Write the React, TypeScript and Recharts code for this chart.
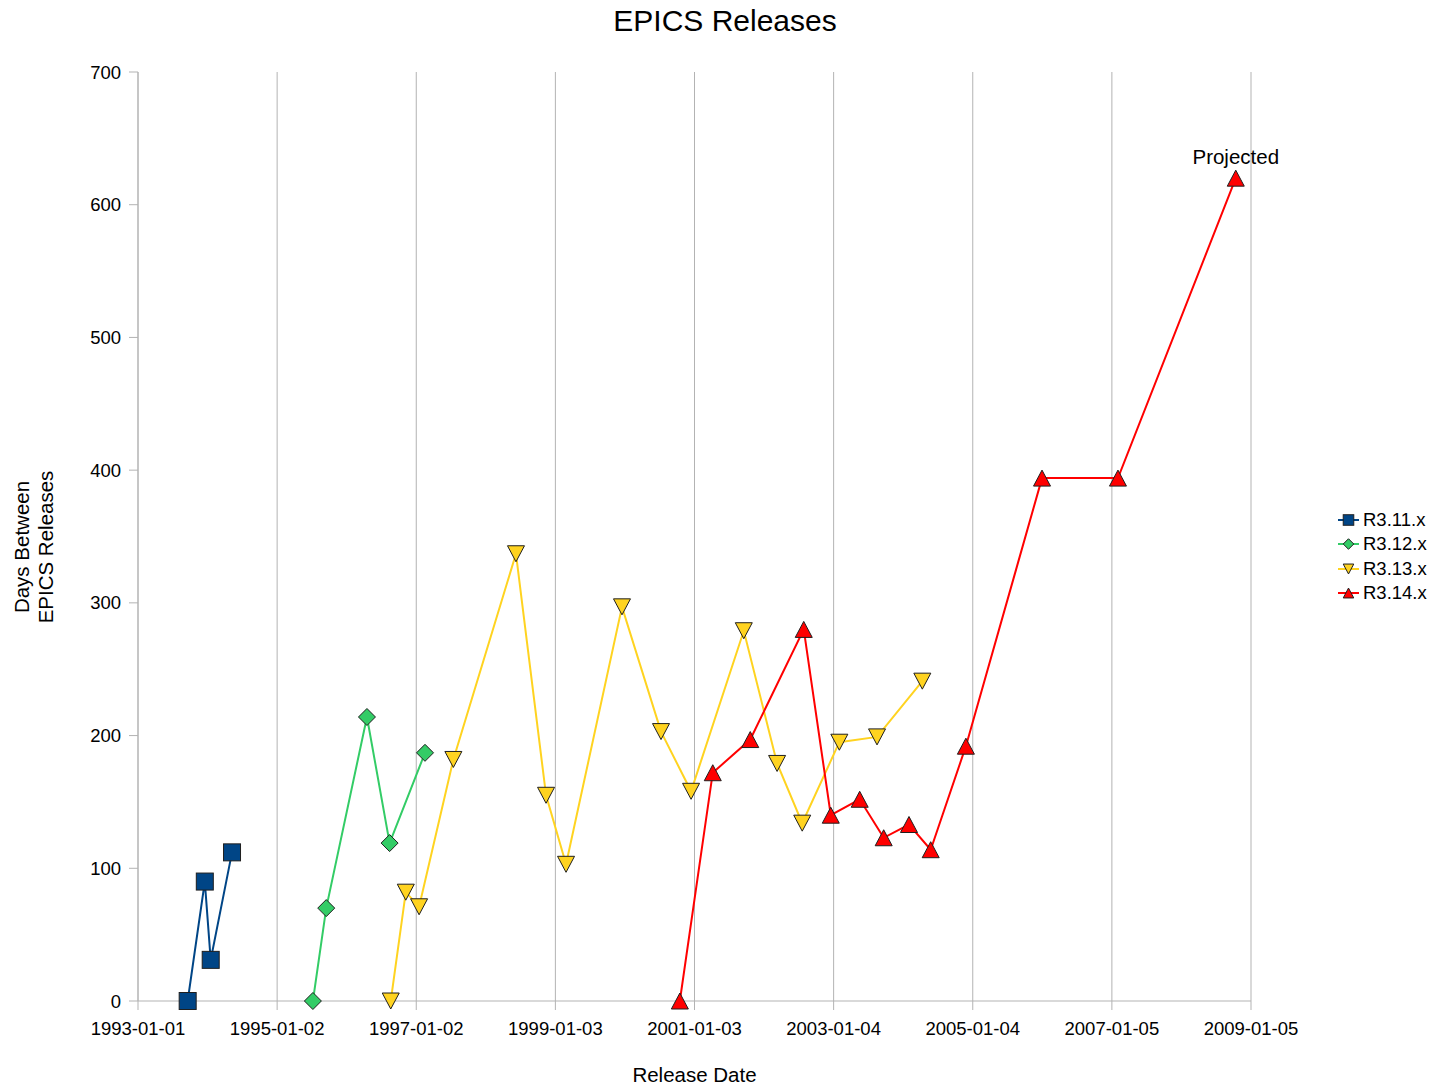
import React from "react";
import { LineChart, Line, XAxis, YAxis, CartesianGrid, Legend, Label, LabelList } from "recharts";

// release dates (x) and days since previous release (y), per branch
const r311Dates = ["1993-09-19", "1993-12-18", "1994-01-18", "1994-05-10"];
const r311Days = [0, 90, 31, 112];

const r312Dates = ["1995-07-09", "1995-09-17", "1996-04-18", "1996-08-15", "1997-02-17"];
const r312Days = [0, 70, 214, 119, 187];

const r313Dates = [
  "1996-08-21", "1996-11-08", "1997-01-17", "1997-07-16", "1998-06-10", "1998-11-15",
  "1999-02-28", "1999-12-19", "2000-07-11", "2000-12-16", "2001-09-19", "2002-03-13",
  "2002-07-23", "2003-02-03", "2003-08-20", "2004-04-14",
];
const r313Days = [0, 82, 71, 182, 337, 155, 103, 297, 203, 158, 279, 179, 134, 195, 199, 241];

const r314Dates = [
  "2000-10-18", "2001-04-09", "2001-10-23", "2002-07-31", "2002-12-20", "2003-05-21",
  "2003-09-24", "2004-02-04", "2004-05-28", "2004-11-29", "2006-01-03", "2007-02-06",
  "2008-10-17",
];
const r314Days = [0, 172, 197, 280, 140, 152, 123, 133, 114, 192, 394, 394, 620];

const dateTicks = [
  "1993-01-01", "1995-01-02", "1997-01-02", "1999-01-03", "2001-01-03",
  "2003-01-04", "2005-01-04", "2007-01-05", "2009-01-05",
];
const dayTicks = [0, 100, 200, 300, 400, 500, 600, 700];

const FONT = "'Liberation Sans', Arial, sans-serif";
const GRID = "#b3b3b3";
const OUTLINE = "#1f1f1f";

const toDay = (s: string) =>
  Date.UTC(+s.slice(0, 4), +s.slice(5, 7) - 1, +s.slice(8, 10)) / 86400000;
const fromDay = (d: number) => new Date(Math.round(d) * 86400000).toISOString().slice(0, 10);

const build = (dates: string[], days: number[]) =>
  dates.map((d, i) => ({ t: toDay(d), v: days[i] }));

const series = [
  { name: "R3.11.x", color: "#004586", shape: "square", data: build(r311Dates, r311Days) },
  { name: "R3.12.x", color: "#33cc66", shape: "diamond", data: build(r312Dates, r312Days) },
  { name: "R3.13.x", color: "#ffd320", shape: "down", data: build(r313Dates, r313Days) },
  { name: "R3.14.x", color: "#ff0000", shape: "up", data: build(r314Dates, r314Days) },
];

function Marker({ shape, cx, cy, color, s = 1 }: any) {
  const common = { fill: color, stroke: OUTLINE, strokeWidth: 1 };
  if (shape === "square")
    return <rect x={cx - 8.5 * s} y={cy - 8.5 * s} width={17 * s} height={17 * s} {...common} />;
  if (shape === "diamond")
    return (
      <polygon
        points={`${cx},${cy - 8.5 * s} ${cx + 8.5 * s},${cy} ${cx},${cy + 8.5 * s} ${cx - 8.5 * s},${cy}`}
        {...common}
      />
    );
  if (shape === "down")
    return (
      <polygon
        points={`${cx - 8.5 * s},${cy - 8 * s} ${cx + 8.5 * s},${cy - 8 * s} ${cx},${cy + 8 * s}`}
        {...common}
      />
    );
  return (
    <polygon
      points={`${cx},${cy - 8 * s} ${cx + 8.5 * s},${cy + 8 * s} ${cx - 8.5 * s},${cy + 8 * s}`}
      {...common}
    />
  );
}

function LegendBox() {
  return (
    <div style={{ fontFamily: FONT, fontSize: 18.5, color: "#000" }}>
      {series.map((s) => (
        <div key={s.name} style={{ display: "flex", alignItems: "center", height: 24.3 }}>
          <svg width={25} height={20} style={{ display: "block" }}>
            <line x1={2} y1={10} x2={23} y2={10} stroke={s.color} strokeWidth={2} />
            <Marker shape={s.shape} cx={12.5} cy={10} color={s.color} s={0.62} />
          </svg>
          <span style={{ marginLeft: 2, lineHeight: "20px" }}>{s.name}</span>
        </div>
      ))}
    </div>
  );
}

const renderTitles = () => (
  <g fontFamily={FONT} fill="#000">
    <text x={725} y={31} fontSize={30} textAnchor="middle">
      EPICS Releases
    </text>
    <text x={28.5} y={547} fontSize={20.5} textAnchor="middle" transform="rotate(-90, 28.5, 547)">
      Days Between
    </text>
    <text x={53} y={547} fontSize={20.5} textAnchor="middle" transform="rotate(-90, 53, 547)">
      EPICS Releases
    </text>
  </g>
);

const renderXTitle = () => (
  <text x={694.5} y={1082} fontSize={20.5} fontFamily={FONT} fill="#000" textAnchor="middle">
    Release Date
  </text>
);

const lastRed = r314Days.length - 1;
const renderProjected = (p: any) => {
  if (p.index !== lastRed && p.value !== r314Days[lastRed]) return <g />;
  return (
    <text x={p.x} y={p.y - 14.3} fontSize={20.5} fontFamily={FONT} fill="#000" textAnchor="middle">
      Projected
    </text>
  );
};

export default function App() {
  const xTicks = dateTicks.map(toDay);
  return (
    <div style={{ position: "fixed", left: 0, top: 0, width: 1441, height: 1087, background: "#fff" }}>
      <LineChart
        width={1441}
        height={1087}
        margin={{ top: 72, right: 190, bottom: 46, left: 78 }}
      >
        <CartesianGrid horizontal={false} vertical stroke={GRID} strokeWidth={1} />
        <XAxis
          type="number"
          dataKey="t"
          domain={[xTicks[0], xTicks[xTicks.length - 1]]}
          ticks={xTicks}
          tickFormatter={fromDay}
          interval={0}
          height={40}
          stroke={GRID}
          tickSize={9}
          tickMargin={12}
          tick={{ fill: "#000", fontSize: 18.5, fontFamily: FONT }}
          allowDataOverflow
        >
          <Label content={renderXTitle} />
        </XAxis>
        <YAxis
          type="number"
          domain={[0, 700]}
          ticks={dayTicks}
          interval={0}
          width={60}
          stroke={GRID}
          tickSize={9}
          tickMargin={8}
          tick={{ fill: "#000", fontSize: 18.5, fontFamily: FONT }}
        >
          <Label content={renderTitles} />
        </YAxis>
        <Legend
          layout="vertical"
          align="center"
          verticalAlign="middle"
          wrapperStyle={{ left: 1336, top: 508, width: 110 }}
          content={() => <LegendBox />}
        />
        {series.map((s) => (
          <Line
            key={s.name}
            name={s.name}
            data={s.data}
            dataKey="v"
            type="linear"
            stroke={s.color}
            strokeWidth={2}
            isAnimationActive={false}
            activeDot={false}
            dot={(p: any) => (
              <Marker key={`${s.name}-${p.index}`} shape={s.shape} cx={p.cx} cy={p.cy} color={s.color} />
            )}
          >
            {s.shape === "up" && <LabelList dataKey="v" content={renderProjected} />}
          </Line>
        ))}
      </LineChart>
    </div>
  );
}
